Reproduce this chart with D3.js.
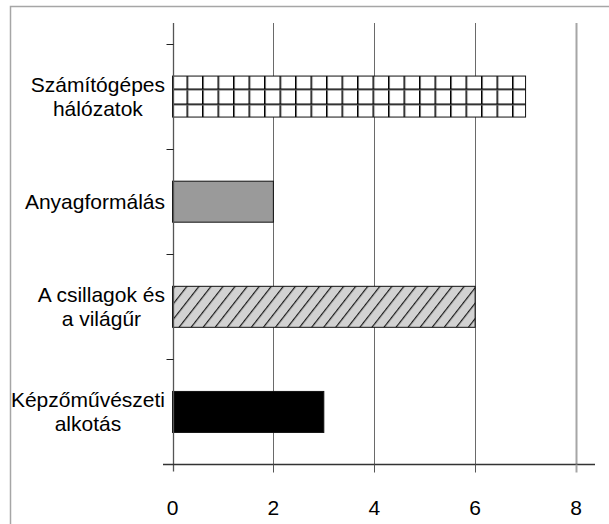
<!DOCTYPE html>
<html>
<head>
<meta charset="utf-8">
<script src="https://cdn.jsdelivr.net/npm/d3@7"></script>
<style>
  html, body { margin: 0; padding: 0; background: #fff; }
  svg { display: block; }
  text { font-family: "Liberation Sans", Arial, sans-serif; fill: #000; }
</style>
</head>
<body>
<svg id="chart" width="609" height="524"></svg>
<script>
// Courses and counts, top to bottom
const categories = ["Számítógépes hálózatok", "Anyagformálás", "A csillagok és a világűr", "Képzőművészeti alkotás"];
const labelLines = [["Számítógépes", "hálózatok"], ["Anyagformálás"], ["A csillagok és", "a világűr"], ["Képzőművészeti", "alkotás"]];
const values = [7, 2, 6, 3];
const fills = ["url(#grid)", "#9a9a9a", "url(#hatch)", "#000000"];
const xTicks = [0, 2, 4, 6, 8];

const svg = d3.select("#chart");

const plotTop = 23, plotBottom = 464.5, bandTop = 44;
const x = d3.scaleLinear().domain([0, 8]).range([172.5, 576]);
const y = d3.scaleBand().domain(categories).range([bandTop, plotBottom])
  .paddingInner(0.61).paddingOuter(0.305);

// Fill patterns
const defs = svg.append("defs");
const grid = defs.append("pattern").attr("id", "grid")
  .attr("patternUnits", "userSpaceOnUse")
  .attr("x", 186.5).attr("y", 88.5).attr("width", 15.5).attr("height", 15);
grid.append("rect").attr("width", 15.5).attr("height", 15).attr("fill", "#fff");
grid.append("rect").attr("x", 0).attr("y", 0).attr("width", 1).attr("height", 15).attr("fill", "#000");
grid.append("rect").attr("x", 1).attr("y", 0).attr("width", 1).attr("height", 15).attr("fill", "#666");
grid.append("rect").attr("x", 0).attr("y", 0).attr("width", 15.5).attr("height", 1).attr("fill", "#000");
grid.append("rect").attr("x", 0).attr("y", 1).attr("width", 15.5).attr("height", 1).attr("fill", "#666");

const hatch = defs.append("pattern").attr("id", "hatch")
  .attr("patternUnits", "userSpaceOnUse")
  .attr("width", 9.5).attr("height", 9.5)
  .attr("patternTransform", "rotate(38)");
hatch.append("rect").attr("width", 9.5).attr("height", 9.5).attr("fill", "#d2d2d2");
hatch.append("line").attr("x1", 0).attr("y1", 0).attr("x2", 0).attr("y2", 9.5)
  .attr("stroke", "#1a1a1a").attr("stroke-width", 2.4);

// Outer frame
svg.append("rect").attr("x", 10.5).attr("y", 6.5).attr("width", 620).attr("height", 540)
  .attr("fill", "none").attr("stroke", "#a6a6a6").attr("stroke-width", 1.5);

// Vertical gridlines
svg.append("g").selectAll("line").data(xTicks.filter(d => d > 0)).join("line")
  .attr("x1", d => Math.round(x(d)) + 0.5).attr("x2", d => Math.round(x(d)) + 0.5)
  .attr("y1", plotTop).attr("y2", plotBottom)
  .attr("stroke", d => d === 8 ? "#a6a6a6" : "#6a6a6a")
  .attr("stroke-width", d => d === 8 ? 2 : 1);

// Bars
svg.append("g").selectAll("rect").data(categories).join("rect")
  .attr("x", x(0))
  .attr("y", d => y(d))
  .attr("width", (d, i) => x(values[i]) - x(0))
  .attr("height", y.bandwidth())
  .attr("fill", (d, i) => fills[i])
  .attr("stroke", "#111").attr("stroke-width", 1);

// Category axis
const ax = Math.round(x(0)) + 0.5;
svg.append("line").attr("x1", ax).attr("x2", ax).attr("y1", plotTop).attr("y2", plotBottom + 7)
  .attr("stroke", "#555").attr("stroke-width", 1.3);
const step = y.step();
const boundaries = categories.map(c => y(c) - step * y.paddingInner() / 2);
svg.append("g").selectAll("line").data(boundaries).join("line")
  .attr("x1", ax - 7).attr("x2", ax)
  .attr("y1", d => Math.round(d) + 0.5).attr("y2", d => Math.round(d) + 0.5)
  .attr("stroke", "#222").attr("stroke-width", 1);

// Value axis
svg.append("line").attr("x1", 163).attr("x2", 595)
  .attr("y1", plotBottom).attr("y2", plotBottom)
  .attr("stroke", "#333").attr("stroke-width", 1.3);
svg.append("g").selectAll("line").data(xTicks.filter(d => d > 0)).join("line")
  .attr("x1", d => Math.round(x(d)) + 0.5).attr("x2", d => Math.round(x(d)) + 0.5)
  .attr("y1", plotBottom).attr("y2", plotBottom + 8)
  .attr("stroke", d => d === 8 ? "#a6a6a6" : "#555")
  .attr("stroke-width", d => d === 8 ? 2 : 1);
svg.append("g").selectAll("text").data(xTicks).join("text")
  .attr("x", d => x(d)).attr("y", 515)
  .attr("text-anchor", "middle").attr("font-size", 21)
  .text(d => d);

// Category labels: each block right-aligned, lines centered within it
const lineH = 24, labelRight = 165;
categories.forEach((c, i) => {
  const g = svg.append("g");
  const lines = labelLines[i];
  const cy = y(c) + y.bandwidth() / 2;
  const texts = g.selectAll("text").data(lines).join("text")
    .attr("font-size", 21).attr("text-anchor", "middle")
    .attr("y", (d, j) => cy + (j - (lines.length - 1) / 2) * lineH + 7.5)
    .text(d => d);
  const maxW = d3.max(texts.nodes(), n => n.getComputedTextLength());
  texts.attr("x", labelRight - maxW / 2);
});
</script>
</body>
</html>
